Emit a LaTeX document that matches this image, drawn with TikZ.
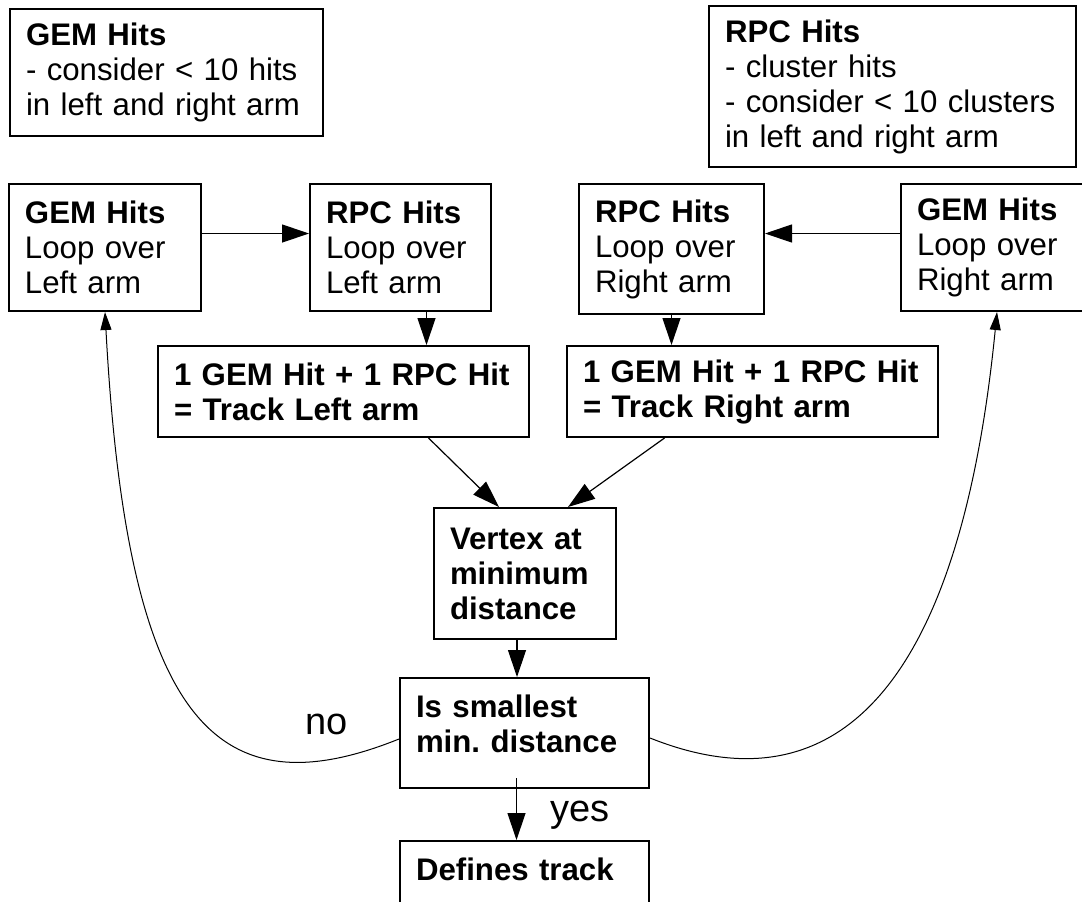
\documentclass[tikz,border=0pt]{standalone}
\usepackage{fontspec}
\setmainfont{Liberation Sans}
\usetikzlibrary{arrows.meta}
\frenchspacing

\begin{document}
\begin{tikzpicture}[x=0.5pt, y=-0.5pt,
  every node/.style={font=\fontsize{15.6pt}{17.5pt}\selectfont},
  fbox/.style={draw, line width=1pt, anchor=north west, align=left,
               inner xsep=8pt, inner ysep=0pt},
  bbox/.style={fbox, font=\fontsize{15.6pt}{17.5pt}\selectfont\bfseries},
  tbox/.style={bbox, inner ysep=6pt, text height=13.75pt, text depth=29.25pt},
  lbl/.style={font=\fontsize{19pt}{21pt}\selectfont},
  arr/.style={-{Triangle[length=13.5pt, width=9pt]}, line width=0.6pt},
  back/.style={-{Triangle[length=9pt, width=5.5pt]}, line width=0.5pt}]

  \useasboundingbox (0,0) rectangle (1082,901);

  % notes
  \node[fbox, text width=140.5pt, minimum height=63.5pt] (gn) at (9,8)
    {\textbf{GEM Hits}\\- consider < 10 hits\\in left and right arm};
  \node[fbox, text width=167.5pt, minimum height=80.5pt] (rn) at (708,5)
    {\textbf{RPC Hits}\\- cluster hits\\- consider < 10 clusters\\in left and right arm};

  % loops over the arms
  \node[fbox, text width=80pt, minimum height=63.5pt] (gl) at (8,183)
    {\textbf{GEM Hits}\\Loop over\\Left arm};
  \node[fbox, text width=74.5pt, minimum height=63.5pt] (rl) at (309,183)
    {\textbf{RPC Hits}\\Loop over\\Left arm};
  \node[fbox, text width=76.5pt, minimum height=65pt] (rr) at (578,183)
    {\textbf{RPC Hits}\\Loop over\\Right arm};
  \node[fbox, text width=80pt, minimum height=63.5pt] (gr) at (900,183)
    {\textbf{GEM Hits}\\Loop over\\Right arm};

  % tracks and vertex
  \node[bbox, text width=169.5pt, minimum height=45.5pt] (tl) at (157,345)
    {1 GEM Hit + 1 RPC Hit\\= Track Left arm};
  \node[bbox, text width=169.5pt, minimum height=45.5pt] (tr) at (566,345)
    {1 GEM Hit + 1 RPC Hit\\= Track Right arm};
  \node[bbox, text width=75pt, minimum height=65.5pt] (vx) at (433,507)
    {Vertex at\\minimum\\distance};
  \node[tbox, text width=108.5pt] (sm) at (399,677)
    {Is smallest\\min. distance};
  \node[tbox, text width=108.5pt] (dt) at (399,840)
    {Defines track};

  \node[lbl] (no) at (327,724) {no};
  \node[lbl] (yes) at (580,815) {yes};

  \draw[arr] ([yshift=7pt]gl.east) -- ([yshift=7pt]rl.west);
  \draw[arr] ([yshift=7pt]gr.west) -- ([yshift=7pt]gr.west -| rr.east);
  \draw[arr] ([xshift=13pt]rl.south) -- ([xshift=13pt]rl.south |- tl.north);
  \draw[arr] (rr.south) -- (rr.south |- tr.north);
  \draw[arr] ([xshift=42.5pt]tl.south) -- ([xshift=-13pt]vx.north);
  \draw[arr] ([xshift=-44pt]tr.south) -- ([xshift=21.5pt]vx.north);
  \draw[arr] ([xshift=-4pt]vx.south) -- ([xshift=-4pt]vx.south |- sm.north);
  \draw[arr] ([xshift=-4pt,yshift=5.5pt]sm.south) -- ([xshift=-4pt]sm.south |- dt.north);

  % back to the loops
  \draw[back] ([yshift=-3pt]sm.west) .. controls +(-184,74) and +(22,409) .. (gl.south);
  \draw[back] ([yshift=-2.5pt]sm.east) .. controls +(193,77) and +(-36,364) .. (gr.south);
\end{tikzpicture}
\end{document}
